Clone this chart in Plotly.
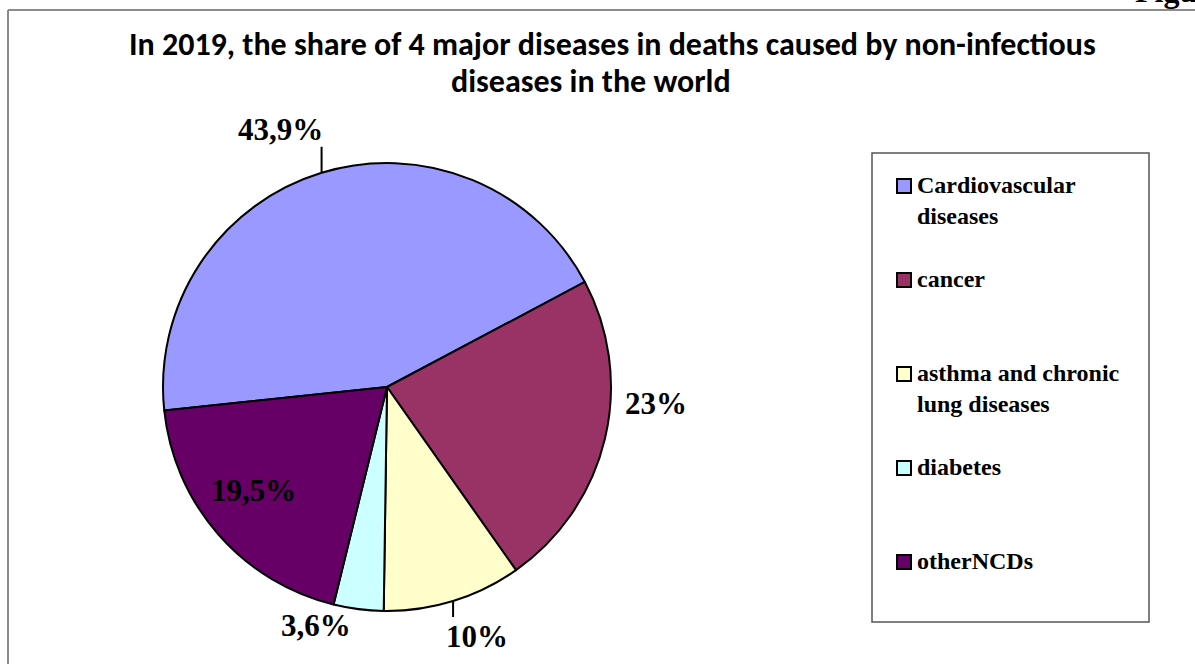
import math
import textwrap
import plotly.graph_objects as go

# Data: share of deaths from non-infectious diseases, 2019 (%)
categories = [
    "Cardiovascular diseases",
    "cancer",
    "asthma and chronic lung diseases",
    "diabetes",
    "otherNCDs",
]
shares = [43.9, 23, 10, 3.6, 19.5]
colors = ["#9999FF", "#993366", "#FFFFCC", "#CCFFFF", "#660066"]

title_lines = [
    "In 2019, the share of 4 major diseases in deaths caused by non-infectious",
    "diseases in the world",
]

# Canvas and pie geometry (pixels)
W, H = 1195, 664
CX, CY, R = 387, 387, 224
ROTATION = -96


def px(x):
    return x / W


def py(y):
    return 1 - y / H


def fmt_share(v):
    return f"{v:g}".replace(".", ",") + "%"


fig = go.Figure(
    go.Pie(
        labels=categories,
        values=shares,
        sort=False,
        direction="clockwise",
        rotation=ROTATION,
        textinfo="none",
        hoverinfo="label+percent",
        showlegend=False,
        marker=dict(colors=colors, line=dict(color="black", width=2)),
        domain=dict(x=[px(CX - R), px(CX + R)], y=[py(CY + R), py(CY - R)]),
    )
)

shapes = []
annotations = []

# Value labels: anchored on each slice's mid-angle, then nudged
# (radius factor, dx, dy, leader-line length)
label_style = [
    (1.0, -41, -43, -26),
    (1.0, 51, -36, 0),
    (1.0, 24, 35, 16),
    (1.0, -42, 16, 0),
    (0.75, -7, -7, 0),
]
label_font = dict(family="Liberation Serif, Times New Roman, serif", size=31, color="black")

total = sum(shares)
start = ROTATION
for v, (rf, dx, dy, lead) in zip(shares, label_style):
    sweep = 360 * v / total
    mid = math.radians(start + sweep / 2)
    start += sweep
    ax = CX + R * rf * math.sin(mid)
    ay = CY - R * rf * math.cos(mid)
    if lead:
        shapes.append(dict(type="line", xref="paper", yref="paper",
                           x0=px(ax), y0=py(ay), x1=px(ax), y1=py(ay + lead),
                           line=dict(color="black", width=2)))
    annotations.append(dict(
        text=f"<b>{fmt_share(v)}</b>", x=px(ax + dx), y=py(ay + dy),
        xref="paper", yref="paper", xanchor="center", yanchor="middle",
        showarrow=False, font=label_font))

# Legend box drawn by hand
shapes.append(dict(type="rect", xref="paper", yref="paper",
                   x0=px(872), y0=py(622), x1=px(1149), y1=py(153),
                   line=dict(color="#555555", width=1.5), fillcolor="white", layer="below"))
legend_font = dict(family="Liberation Serif, Times New Roman, serif", size=24, color="black")
for i, (name, col) in enumerate(zip(categories, colors)):
    yc = 186 + 94 * i
    shapes.append(dict(type="rect", xref="paper", yref="paper",
                       x0=px(897), y0=py(yc + 7), x1=px(911), y1=py(yc - 7),
                       line=dict(color="black", width=2), fillcolor=col))
    wrapped = "<br>".join(textwrap.wrap(name, 18))
    annotations.append(dict(
        text=f"<b>{wrapped}</b>", x=px(915), y=py(yc - 16),
        xref="paper", yref="paper", xanchor="left", yanchor="top", align="left",
        showarrow=False, font=legend_font))

# Chart title
title_font = dict(family="Carlito, Calibri, Lato, sans-serif", size=32, color="black")
for text, xc, yc in zip(title_lines, [612, 591], [45, 82]):
    annotations.append(dict(
        text=f"<b>{text}</b>", x=px(xc), y=py(yc), xref="paper", yref="paper",
        xanchor="center", yanchor="middle", showarrow=False, font=title_font))

# Page caption clipped at the top edge
annotations.append(dict(
    text="<b>Figure</b>", x=px(1133), y=py(11), xref="paper", yref="paper",
    xanchor="left", yanchor="bottom", showarrow=False,
    font=dict(family="Liberation Serif, Times New Roman, serif", size=32, color="black")))

# Chart area frame (left and top edges)
shapes.append(dict(type="line", xref="paper", yref="paper",
                   x0=px(8), y0=py(10), x1=1, y1=py(10),
                   line=dict(color="#8c8c8c", width=2)))
shapes.append(dict(type="line", xref="paper", yref="paper",
                   x0=px(8), y0=py(10), x1=px(8), y1=0,
                   line=dict(color="#8c8c8c", width=2)))

fig.update_layout(
    width=W, height=H,
    margin=dict(l=0, r=0, t=0, b=0),
    paper_bgcolor="white", plot_bgcolor="white",
    shapes=shapes, annotations=annotations,
)

fig.write_html("out.html")
